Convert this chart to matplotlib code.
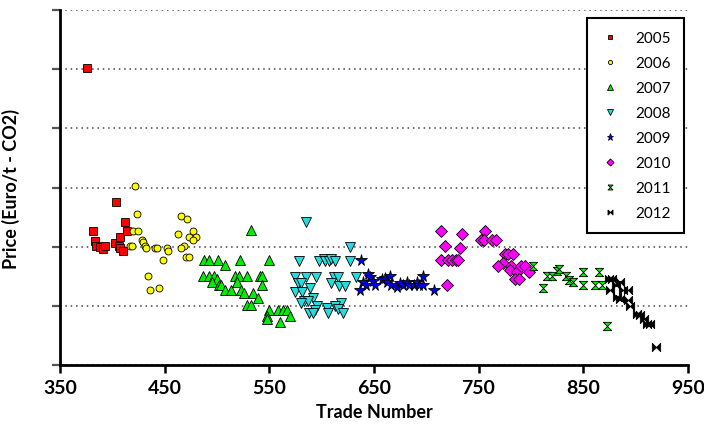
import matplotlib
matplotlib.use('Agg')
import matplotlib.pyplot as plt

# trade number / price per year (y in axis units 0..30)
trade_2005 = [376, 382, 383, 384, 388, 391, 393, 403, 404, 406, 407, 407, 410, 412, 414]
price_2005 = [25.1, 11.3, 10.5, 10.1, 10.0, 9.8, 10.1, 10.35, 13.8, 10.1, 10.8, 9.85, 9.6, 12.05, 11.3]

trade_2006 = [422, 424, 420, 425, 428, 429, 431, 432, 417, 419, 441, 443, 452, 453, 448, 434, 436,
              445, 466, 471, 463, 477, 473, 480, 477, 469, 466, 470, 473]
price_2006 = [15.1, 12.8, 11.3, 11.3, 10.6, 10.4, 10.1, 9.85, 10.1, 10.1, 9.85, 9.85, 9.85, 9.6, 8.9, 7.5, 6.3,
              6.5, 12.6, 12.3, 11.1, 11.3, 10.85, 10.85, 10.6, 10.1, 9.85, 9.1, 9.1]

trade_2007 = [533, 488, 492, 501, 522, 550, 508, 487, 492, 497, 500, 495, 502, 504, 517, 521, 529, 541, 543,
              519, 543, 508, 513, 523, 526, 534, 539, 529, 533, 550, 558, 563, 567, 570, 548, 548, 560]
price_2007 = [11.4, 8.9, 8.9, 8.9, 8.9, 8.9, 8.45, 7.55, 7.55, 7.55, 7.25, 7.05, 6.8, 6.8, 7.55, 7.55, 7.55, 7.55, 7.55,
              7.05, 6.8, 6.35, 6.35, 6.35, 6.1, 6.1, 5.65, 5.05, 5.05, 4.65, 4.65, 4.65, 4.65, 4.15, 4.15, 3.85, 3.6]

trade_2008 = [585, 627, 578, 598, 602, 603, 607, 609, 613, 627, 575, 585, 595, 612, 616, 633, 577, 580, 609,
              617, 622, 589, 575, 581, 592, 583, 587, 580, 619, 596, 605, 613, 616, 594, 588, 592, 606, 620]
price_2008 = [12.05, 10.0, 8.8, 8.8, 8.95, 8.75, 8.75, 8.95, 8.75, 8.8, 7.4, 7.4, 7.4, 7.4, 7.4, 7.4, 6.9, 6.9, 6.9,
              6.65, 6.65, 6.5, 6.15, 6.15, 5.7, 5.4, 5.4, 5.2, 5.2, 4.95, 4.8, 4.95, 4.75, 4.65, 4.4, 4.4, 4.4, 4.4]

trade_2009 = [638, 637, 644, 646, 640, 642, 649, 651, 658, 661, 665, 663, 666, 672, 675, 678, 682, 684,
              688, 691, 693, 697, 697, 707]
price_2009 = [8.9, 6.35, 7.65, 7.45, 7.05, 6.75, 7.1, 6.8, 7.25, 7.35, 7.55, 7.05, 6.75, 6.55, 6.9, 6.75, 7.05, 6.8,
              6.8, 7.05, 6.75, 7.55, 6.75, 6.35]

trade_2010 = [714, 734, 718, 732, 714, 721, 725, 728, 730, 720, 756, 752, 755, 763, 767, 775, 778, 783, 773,
              769, 781, 780, 787, 791, 794, 798, 785, 789]
price_2010 = [11.3, 11.1, 10.1, 9.85, 8.85, 8.85, 8.85, 8.85, 8.85, 6.75, 11.3, 10.6, 10.6, 10.6, 10.6, 9.4, 9.4, 9.4, 8.6,
              8.35, 8.35, 8.05, 7.9, 8.35, 8.35, 7.9, 7.25, 7.25]

trade_2011 = [802, 812, 815, 820, 825, 827, 834, 836, 840, 850, 850, 865, 861, 868, 873]
price_2011 = [8.4, 6.5, 7.5, 7.5, 7.95, 8.1, 7.5, 7.15, 7.0, 7.9, 6.75, 7.9, 6.75, 6.75, 3.3]

trade_2012 = [875, 878, 885, 881, 876, 888, 893, 882, 885, 893, 895, 901, 904, 908, 911, 914, 920]
price_2012 = [7.25, 7.25, 7.05, 6.75, 6.3, 6.3, 6.3, 5.75, 5.6, 5.5, 5.0, 4.3, 4.25, 3.9, 3.45, 3.5, 1.5]

x_ticks = [350, 450, 550, 650, 750, 850, 950]
y_ticks = [0, 5, 10, 15, 20, 25, 30]

hourglass = [(-1, 1), (1, 1), (-1, -1), (1, -1), (-1, 1)]
bowtie = [(-1, 1), (-1, -1), (1, 1), (1, -1), (-1, 1)]

series = [
    ('2005', trade_2005, price_2005, 's', '#ff0000', 6.0),
    ('2006', trade_2006, price_2006, 'o', '#ffff00', 5.0),
    ('2007', trade_2007, price_2007, '^', '#00ee00', 6.5),
    ('2008', trade_2008, price_2008, 'v', '#22dddd', 6.5),
    ('2009', trade_2009, price_2009, '*', '#0000ee', 8.5),
    ('2010', trade_2010, price_2010, 'D', '#ff00ff', 6.0),
    ('2011', trade_2011, price_2011, hourglass, '#00ee00', 6.0),
    ('2012', trade_2012, price_2012, bowtie, '#000000', 6.0),
]

plt.rcParams['font.family'] = ['Lato', 'DejaVu Sans']

fig = plt.figure(figsize=(7.04, 4.27), dpi=100)
ax = fig.add_axes([0.0852, 0.1429, 0.8918, 0.8311])

for label, xs, ys, mk, col, ms in series:
    ax.plot(xs, ys, linestyle='none', marker=mk, markersize=ms, markerfacecolor=col,
            markeredgecolor='black', markeredgewidth=0.6, label=label, clip_on=False, zorder=3)

ax.set_xlim(350, 950)
ax.set_ylim(0, 30)
ax.set_xticks(x_ticks)
ax.set_yticks(y_ticks)
ax.set_yticklabels([])
ax.set_xticklabels([str(t) for t in x_ticks], fontsize=14, fontweight='bold')

ax.yaxis.grid(True, linestyle=(0, (1, 2.5)), color='#444444', linewidth=1.1)
ax.set_axisbelow(True)

for side in ['top', 'right']:
    ax.spines[side].set_visible(False)
for side in ['left', 'bottom']:
    ax.spines[side].set_linewidth(2.0)
    ax.spines[side].set_color('black')

ax.tick_params(axis='x', direction='out', length=6, width=1.8, color='black', pad=4)
ax.tick_params(axis='y', direction='out', length=6, width=1.6, color='#555555')

ax.set_xlabel('Trade Number', fontsize=13, fontweight='bold', labelpad=5)
ax.set_ylabel('Price (Euro/t - CO2)', fontsize=13, fontweight='bold', labelpad=19)

leg = ax.legend(loc='upper right', bbox_to_anchor=(0.994, 0.978), fontsize=11,
                markerscale=0.6, labelspacing=0.72, handletextpad=1.1, borderpad=0.85,
                fancybox=False, framealpha=1, edgecolor='black', handlelength=1.2,
                borderaxespad=0)
leg.get_frame().set_linewidth(1.5)

fig.savefig('out.png', dpi=100)
